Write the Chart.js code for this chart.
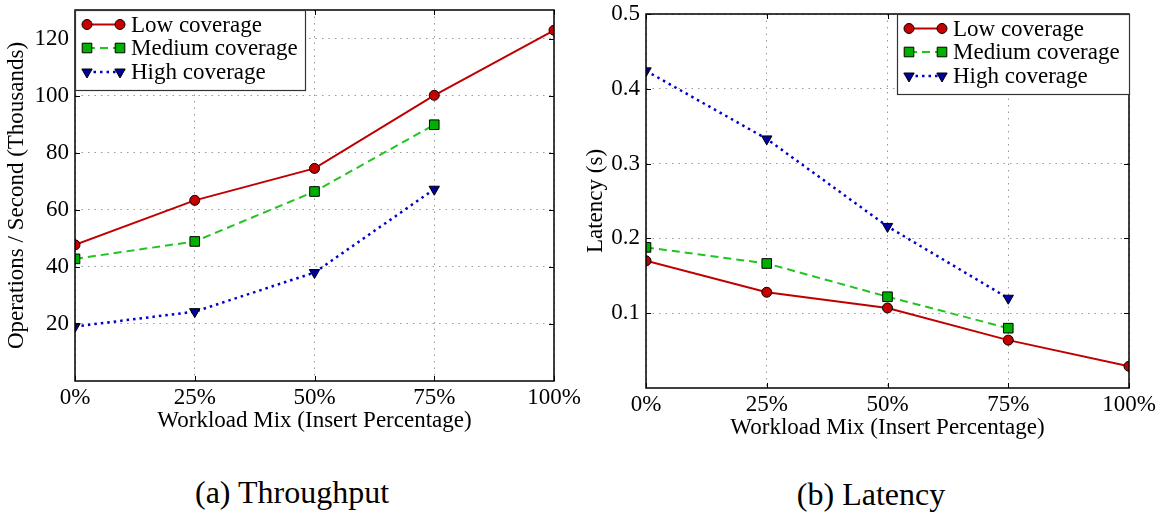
<!DOCTYPE html>
<html><head><meta charset="utf-8">
<script src="https://cdn.jsdelivr.net/npm/chart.js@4.4.0/dist/chart.umd.min.js"></script>
<style>
html,body{margin:0;padding:0;background:#fff;}
body{width:1165px;height:514px;position:relative;overflow:hidden;font-family:"Liberation Serif",serif;}
#c1{position:absolute;left:0;top:0;}
#c2{position:absolute;left:580px;top:0;}
.cap{position:absolute;font-size:32px;color:#000;transform:translate(-50%,-50%);white-space:nowrap;line-height:1;}
</style></head><body>
<canvas id="c1" width="600" height="450"></canvas>
<canvas id="c2" width="585" height="450"></canvas>
<div class="cap" style="left:292px;top:492px">(a) Throughput</div>
<div class="cap" style="left:871px;top:494px">(b) Latency</div>
<script>
const categories = ['0%','25%','50%','75%','100%'];
const seriesNames = ['Low coverage','Medium coverage','High coverage'];
const thrLow  = [47.7, 63.3, 74.5, 100.1, 122.9];
const thrMed  = [42.8, 48.9, 66.4, 89.8, null];
const thrHigh = [19.1, 24.3, 38.0, 67.2, null];
const latLow  = [0.170, 0.128, 0.107, 0.064, 0.029];
const latMed  = [0.188, 0.1665, 0.122, 0.080, null];
const latHigh = [0.424, 0.333, 0.216, 0.120, null];
const thrTicks = [20, 40, 60, 80, 100, 120];
const latTicks = [0.1, 0.2, 0.3, 0.4, 0.5];

const FONT = {family:'"Liberation Serif", serif', size:23};
const styles = [
  {line:'#c00000', fill:'#c40000', dash:[], pointStyle:'circle', rotation:0, radius:5, width:2},
  {line:'#22c422', fill:'#00b000', dash:[8,5], pointStyle:'rect', rotation:0, radius:6.8, width:2},
  {line:'#0000cc', fill:'#0000a0', dash:[2.5,4], pointStyle:'triangle', rotation:180, radius:6, width:2.5}
];

function makeDatasets(arrs){
  return arrs.map((d,i)=>({
    label: seriesNames[i],
    data: d,
    clip: 0,
    borderColor: styles[i].line,
    borderWidth: styles[i].width,
    borderDash: styles[i].dash,
    backgroundColor: styles[i].fill,
    pointBackgroundColor: styles[i].fill,
    pointBorderColor: '#000',
    pointBorderWidth: 1,
    pointStyle: styles[i].pointStyle,
    pointRotation: styles[i].rotation,
    pointRadius: styles[i].radius,
    pointHoverRadius: styles[i].radius,
    tension: 0,
    spanGaps: false
  }));
}

const framePlugin = {
  id: 'frame',
  afterDraw(chart, args, opts){
    const ctx = chart.ctx, a = chart.chartArea;
    ctx.save();
    ctx.strokeStyle = '#000'; ctx.lineWidth = 1; ctx.setLineDash([]);
    const xs = chart.scales.x, ys = chart.scales.y;
    ctx.beginPath();
    xs.ticks.forEach((t,i)=>{
      const px = Math.round(xs.getPixelForTick(i))+0.5;
      ctx.moveTo(px, a.bottom); ctx.lineTo(px, a.bottom-5);
      ctx.moveTo(px, a.top); ctx.lineTo(px, a.top+5);
    });
    ys.ticks.forEach(t=>{
      const py = Math.round(ys.getPixelForValue(t.value))+0.5;
      ctx.moveTo(a.left, py); ctx.lineTo(a.left+5, py);
      ctx.moveTo(a.right, py); ctx.lineTo(a.right-5, py);
    });
    ctx.stroke();
    ctx.lineWidth = 1.5; ctx.strokeStyle = '#000';
    ctx.strokeRect(a.left, a.top, a.right-a.left, a.bottom-a.top);
    const lx = opts.align === 'right' ? a.right - opts.w : a.left;
    const ly = a.top;
    ctx.fillStyle = '#fff';
    ctx.fillRect(lx, ly, opts.w, opts.h);
    ctx.lineWidth = 1.2; ctx.strokeStyle = '#333';
    ctx.strokeRect(lx+0.5, ly+0.5, opts.w, opts.h);
    const rows = [14.5, 38, 62];
    chart.data.datasets.forEach((ds,i)=>{
      const s = styles[i], y = ly + rows[i];
      ctx.save();
      ctx.strokeStyle = s.line; ctx.lineWidth = s.width; ctx.setLineDash(s.dash);
      ctx.beginPath(); ctx.moveTo(lx+12, y); ctx.lineTo(lx+45, y); ctx.stroke();
      ctx.setLineDash([]);
      ctx.fillStyle = s.fill; ctx.strokeStyle = '#000'; ctx.lineWidth = 1;
      [12,45].forEach(dx=>{
        Chart.helpers.drawPoint(ctx, {pointStyle:s.pointStyle, radius:s.radius, rotation:s.rotation, borderWidth:1}, lx+dx, y);
      });
      ctx.restore();
      ctx.fillStyle = '#000';
      ctx.font = '23px "Liberation Serif", serif';
      ctx.textBaseline = 'middle'; ctx.textAlign = 'left';
      ctx.fillText(ds.label, lx+56, y+1);
    });
    ctx.restore();
  }
};

function makeChart(id, arrs, yMax, yTicks, yTitle, layout, fmt){
  return new Chart(document.getElementById(id), {
    type: 'line',
    data: {labels: categories, datasets: makeDatasets(arrs)},
    plugins: [framePlugin],
    options: {
      responsive: false,
      animation: false,
      events: [],
      layout: {padding: {top: layout.top, right: layout.right, left: 0, bottom: 0}},
      plugins: {
        legend: {display:false},
        tooltip: {enabled:false},
        frame: {align: layout.legendAlign, w: layout.legendW, h: 80}
      },
      scales: {
        x: {
          type: 'category',
          offset: false,
          grid: {color:'#999', lineWidth:1, drawTicks:false},
          border: {display:false, dash:[1.5,5]},
          ticks: {color:'#000', font:FONT, padding:3, maxRotation:0, autoSkip:false},
          title: {display:true, text:'Workload Mix (Insert Percentage)', color:'#000', font:FONT, padding:{top:0,bottom:layout.xTitlePad}},
          afterFit(s){ s.height = layout.xH; s.paddingLeft = 0; s.paddingRight = 0; }
        },
        y: {
          type: 'linear',
          min: 0, max: yMax,
          grid: {color:'#999', lineWidth:1, drawTicks:false},
          border: {display:false, dash:[1.5,5]},
          afterBuildTicks(s){ s.ticks = yTicks.map(v=>({value:v})); },
          ticks: {color:'#000', font:FONT, padding:6, callback: fmt},
          title: {display:true, text:yTitle, color:'#000', font:FONT, padding:{top:layout.yTitlePad,bottom:0}},
          afterFit(s){ s.width = layout.yW; s.paddingTop = 0; s.paddingBottom = 0; }
        }
      }
    }
  });
}

makeChart('c1', [thrLow, thrMed, thrHigh], 130, thrTicks, 'Operations / Second (Thousands)',
  {top:10, right:46, xH:69, yW:75, xTitlePad:15, yTitlePad:3, legendAlign:'left', legendW:230},
  v => String(v));
makeChart('c2', [latLow, latMed, latHigh], 0.5, latTicks, 'Latency (s)',
  {top:14, right:36, xH:62, yW:66, xTitlePad:8, yTitlePad:2, legendAlign:'right', legendW:232},
  v => v.toFixed(1));
</script>
</body></html>
